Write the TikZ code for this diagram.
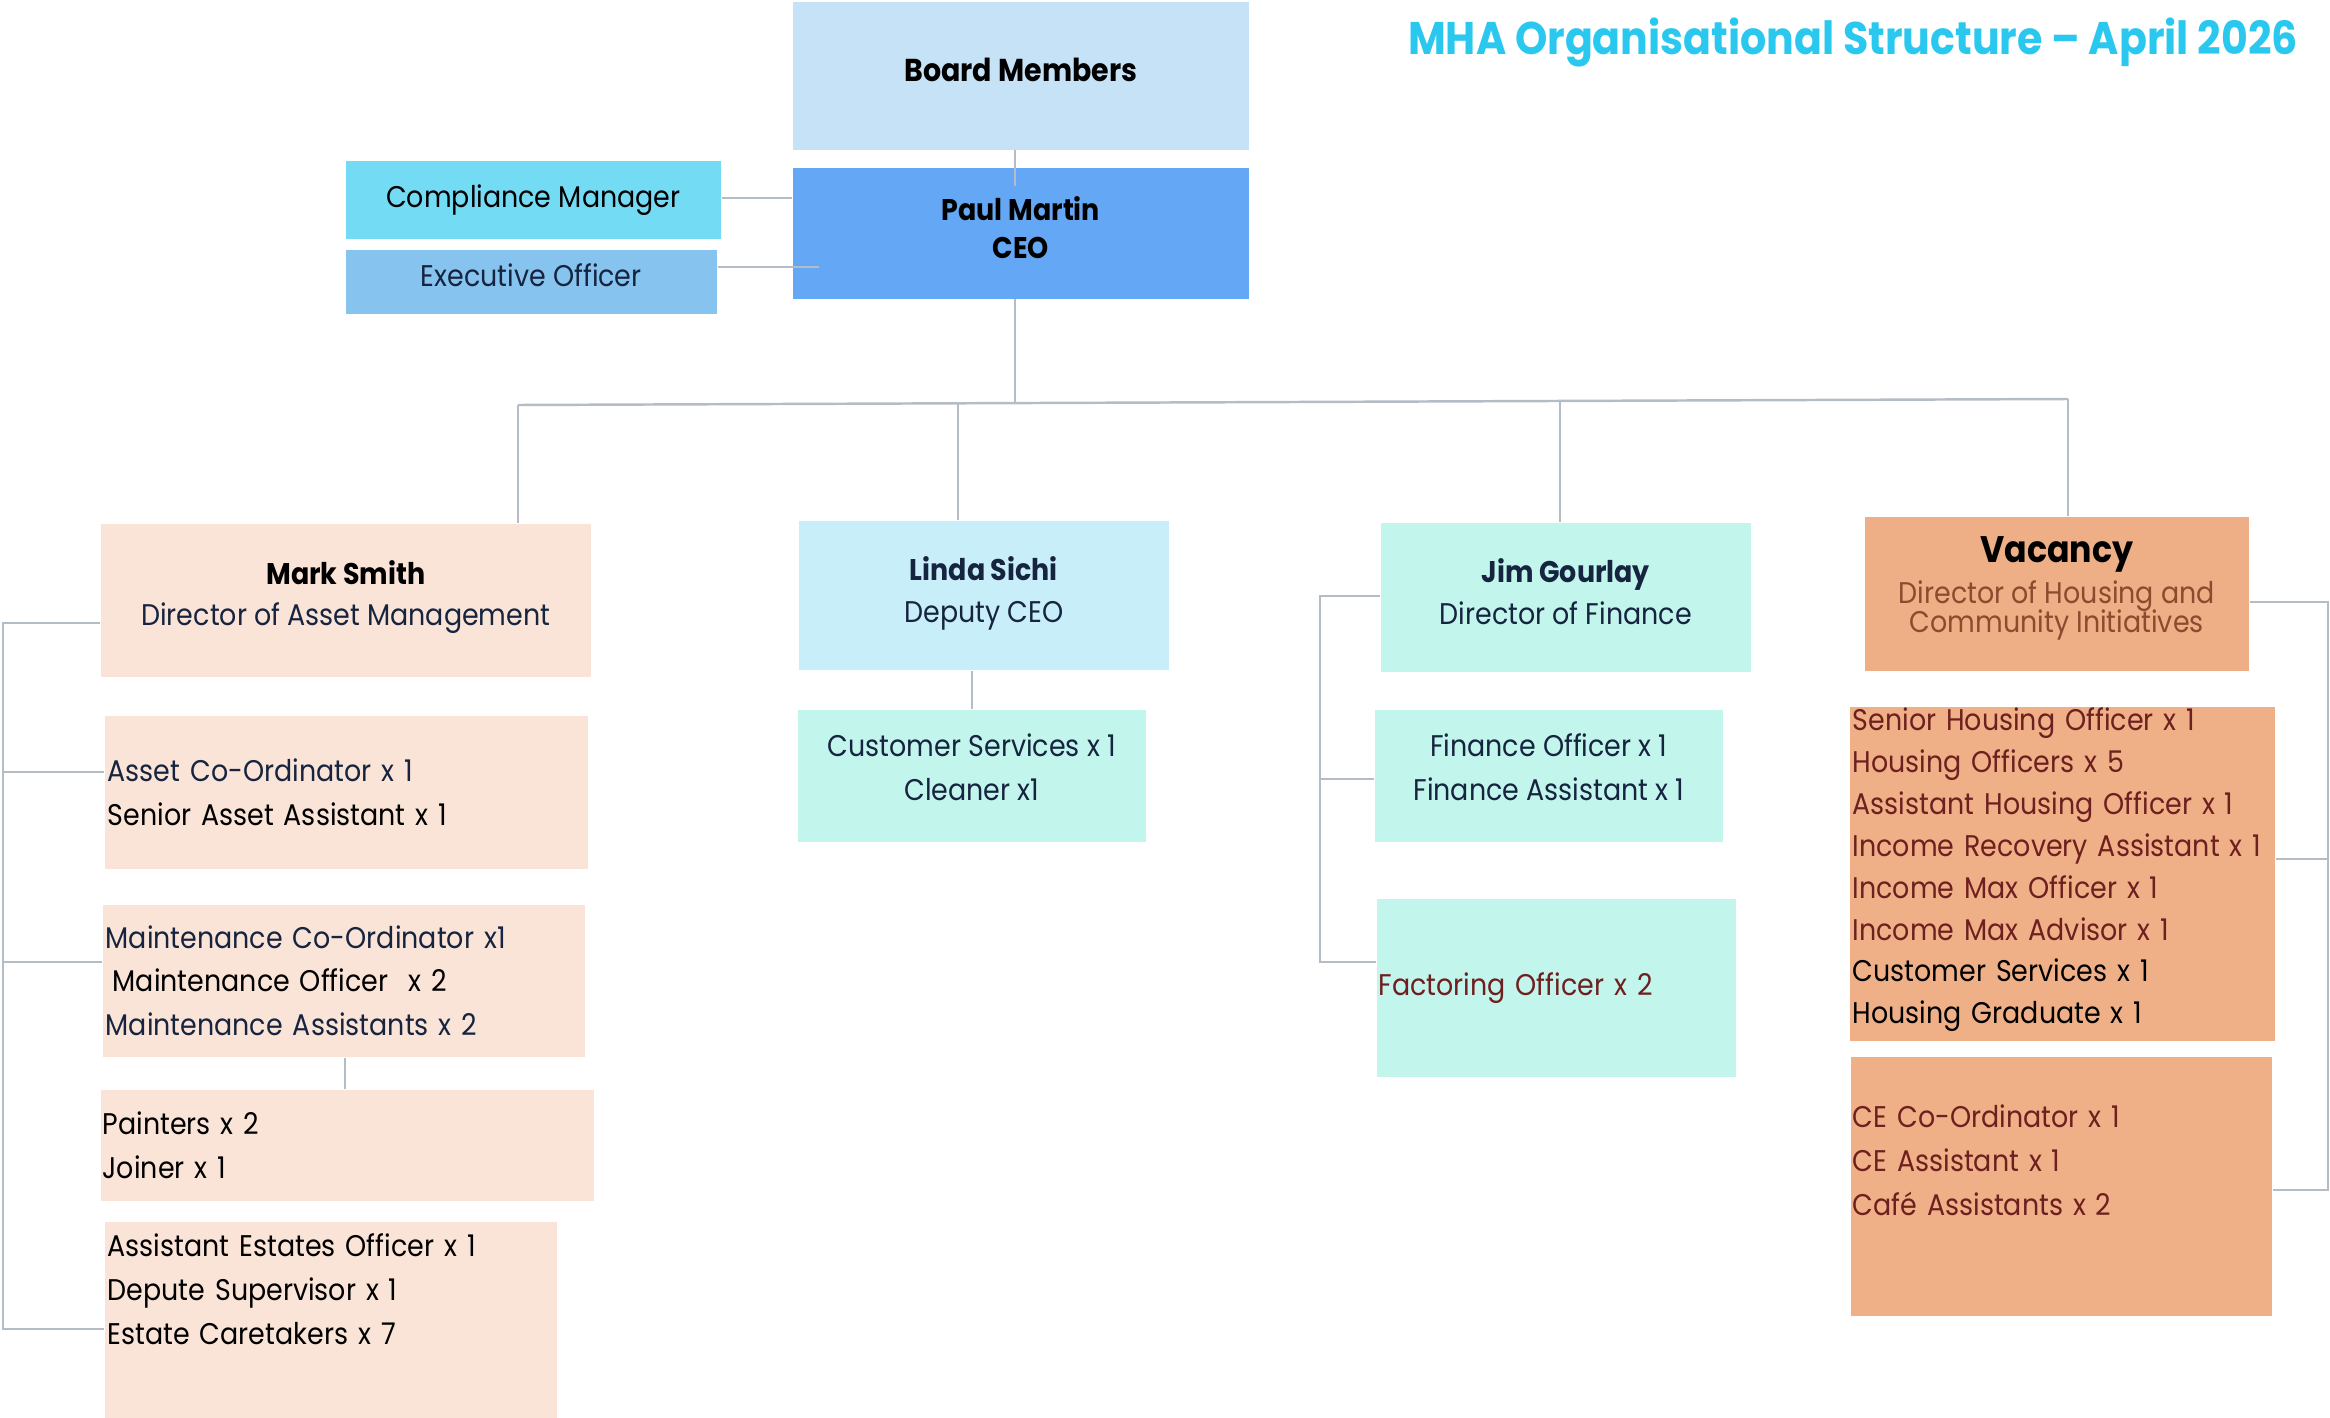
\documentclass[tikz,border=0pt]{standalone}
\usepackage{fontspec}
\setmainfont{Poppins}[FakeStretch=0.9]
\usetikzlibrary{calc}

\definecolor{boardblue}{HTML}{C5E2F7}
\definecolor{ceoblue}{HTML}{64A7F5}
\definecolor{compcyan}{HTML}{74DBF5}
\definecolor{execblue}{HTML}{86C4EF}
\definecolor{peach}{HTML}{FAE4D7}
\definecolor{iceblue}{HTML}{C8EFF9}
\definecolor{mint}{HTML}{C2F5EC}
\definecolor{salmon}{HTML}{EEAF86}
\definecolor{salmonlt}{HTML}{EFB088}
\definecolor{titlecyan}{HTML}{2AC8EE}
\definecolor{linegray}{HTML}{B4BCC6}
\definecolor{navy}{HTML}{16243F}
\definecolor{maroon}{HTML}{6E1F1F}
\definecolor{brownish}{HTML}{8A4B2E}

\begin{document}
\begin{tikzpicture}[x=0.01cm, y=-0.01cm,
    box/.style={fill=#1, anchor=north west, inner sep=0pt, align=center,
      font=\fontsize{8.5}{12.5}\selectfont},
    list/.style={align=left},
    conn/.style={draw=linegray, line width=0.7pt}]

  \useasboundingbox (0,0) rectangle (2330,1418);

  % Title
  \node[text=titlecyan, font=\fontsize{13}{15}\selectfont\bfseries] (title) at (1853,42)
    {MHA Organisational Structure – April 2026};

  % Board, CEO and office
  \node[box=boardblue, minimum width=4.56cm, minimum height=1.48cm, font=\fontsize{9}{12}\selectfont] (board) at (792,1)
    {\textbf{Board Members}\\[-0.30cm]~};
  \node[box=ceoblue, minimum width=4.56cm, minimum height=1.31cm,
    font=\fontsize{8.5}{10.8}\selectfont\bfseries] (ceo) at (792,167)
    {Paul Martin\\CEO\\[-0.26cm]~};
  \node[box=compcyan, minimum width=3.75cm, minimum height=0.78cm] (comp) at (345,160)
    {Compliance Manager};
  \node[box=execblue, minimum width=3.71cm, minimum height=0.64cm, text=navy] (exec) at (345,249)
    {Executive Officer\\[-0.3cm]~};

  % Asset Management
  \node[box=peach, minimum width=4.90cm, minimum height=1.53cm, font=\fontsize{8.5}{11.7}\selectfont] (mark) at (100,523)
    {\textbf{Mark Smith}\\\textcolor{navy}{Director of Asset Management}\\[-0.26cm]~};
  \node[box=peach, list, minimum width=4.83cm, minimum height=1.53cm, text width=4.77cm] (asset) at (104,715)
    {\textcolor{navy}{Asset Co-Ordinator x 1}\\Senior Asset Assistant x 1};
  \node[box=peach, list, minimum width=4.82cm, minimum height=1.52cm, text width=4.76cm] (maint) at (102,904)
    {\textcolor{navy}{Maintenance Co-Ordinator x1}\\
     \hspace{2pt}Maintenance Officer\ \ x 2\\
     \textcolor{navy}{Maintenance Assistants x 2}};
  \node[box=peach, list, minimum width=4.93cm, minimum height=1.11cm, text width=4.89cm] (paint) at (100,1089)
    {Painters x 2\\Joiner x 1};
  \node[box=peach, list, minimum width=4.52cm, minimum height=1.97cm, text width=4.46cm] (estates) at (104,1221)
    {Assistant Estates Officer x 1\\Depute Supervisor x 1\\Estate Caretakers x 7\\[0.18cm]~};

  % Deputy CEO
  \node[box=iceblue, minimum width=3.70cm, minimum height=1.49cm, text=navy,
    font=\fontsize{8.5}{12}\selectfont] (linda) at (798,520)
    {\textbf{Linda Sichi}\\Deputy CEO\\[-0.31cm]~};
  \node[box=mint, minimum width=3.48cm, minimum height=1.32cm, text=navy] (custsvc) at (797,709)
    {Customer Services x 1\\Cleaner x1\\[-0.26cm]~};

  % Finance
  \node[box=mint, minimum width=3.70cm, minimum height=1.49cm, text=navy,
    font=\fontsize{8.5}{12}\selectfont] (jim) at (1380,522)
    {\textbf{Jim Gourlay}\\Director of Finance\\[-0.30cm]~};
  \node[box=mint, minimum width=3.48cm, minimum height=1.32cm, text=navy] (fin) at (1374,709)
    {Finance Officer x 1\\Finance Assistant x 1\\[-0.26cm]~};
  \node[box=mint, list, minimum width=3.59cm, minimum height=1.78cm, text width=3.55cm, text=maroon] (fact) at (1376,898)
    {Factoring Officer x 2};

  % Housing and Community Initiatives
  \node[box=salmon, minimum width=3.84cm, minimum height=1.54cm,
    font={\fontsize{8.5}{8.5}\selectfont\setlength{\lineskiplimit}{-10pt}}] (vac) at (1864,516)
    {{\fontsize{10.5}{12}\selectfont\bfseries Vacancy}\\[3pt]
     \textcolor{brownish}{Director of Housing and}\\\textcolor{brownish}{Community Initiatives}\\[-0.12cm]~};
  \node[box=salmonlt, list, minimum width=4.25cm, minimum height=3.34cm, text width=4.19cm,
    font=\fontsize{8.5}{11.9}\selectfont] (housing) at (1849,706)
    {\textcolor{maroon}{Senior Housing Officer x 1}\\
     \textcolor{maroon}{Housing Officers x 5}\\
     \textcolor{maroon}{Assistant Housing Officer x 1}\\
     \textcolor{maroon}{Income Recovery Assistant x 1}\\
     \textcolor{maroon}{Income Max Officer x 1}\\
     \textcolor{maroon}{Income Max Advisor x 1}\\
     Customer Services x 1\\
     Housing Graduate x 1\\[-0.26cm]~};
  \node[box=salmonlt, list, minimum width=4.21cm, minimum height=2.59cm, text width=4.17cm, text=maroon] (ce) at (1850,1056)
    {CE Co-Ordinator x 1\\CE Assistant x 1\\Café Assistants x 2\\[0.08cm]~};

  % Connectors
  \coordinate (busL) at (518,405);
  \coordinate (busR) at (2068,399);
  \draw[conn] (board.south -| 1015,0) -- (1015,186);
  \draw[conn] (comp.east |- 0,198) -- (ceo.west |- 0,198);
  \draw[conn] (exec.east |- 0,267) -- (819,267);
  \draw[conn] (ceo.south -| 1015,0) -- (1015,403);
  \draw[conn] (busL) -- (busR);
  \draw[conn] (busL) -- (busL |- mark.north);
  \draw[conn] (958,404) -- (linda.north -| 958,0);
  \draw[conn] (1560,401) -- (jim.north -| 1560,0);
  \draw[conn] (busR) -- (busR |- vac.north);

  \draw[conn] (mark.west |- 0,623) -- (3,623) -- (3,1329) -- (estates.west |- 0,1329);
  \draw[conn] (3,772) -- (asset.west |- 0,772);
  \draw[conn] (3,962) -- (maint.west |- 0,962);
  \draw[conn] (maint.south -| 345,0) -- (paint.north -| 345,0);

  \draw[conn] (custsvc.north |- linda.south) -- (custsvc.north);

  \draw[conn] (jim.west |- 0,596) -- (1320,596) -- (1320,962) -- (fact.west |- 0,962);
  \draw[conn] (1320,779) -- (fin.west |- 0,779);

  \draw[conn] (vac.east |- 0,602) -- (2328,602) -- (2328,1190) -- (ce.east |- 0,1190);
  \draw[conn] (2328,859) -- (housing.east |- 0,859);

\end{tikzpicture}
\end{document}
